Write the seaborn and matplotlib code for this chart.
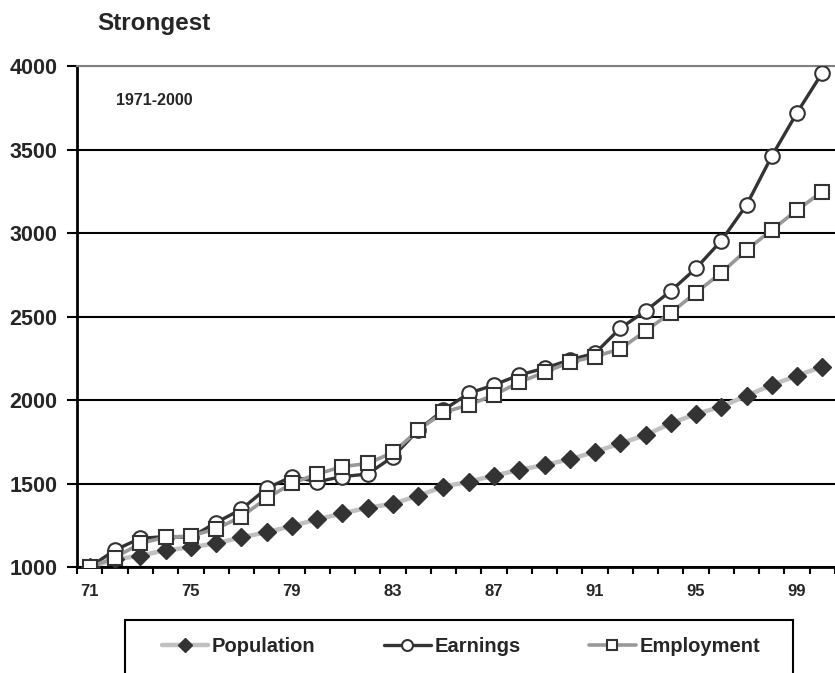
import matplotlib
matplotlib.use("Agg")
import matplotlib.pyplot as plt
from matplotlib.patches import Rectangle
import seaborn as sns
import pandas as pd

# Index values, 1971 = 1000
years = ["71", "72", "73", "74", "75", "76", "77", "78", "79", "80",
         "81", "82", "83", "84", "85", "86", "87", "88", "89", "90",
         "91", "92", "93", "94", "95", "96", "97", "98", "99", "00"]
population = [1000, 1045, 1068, 1100, 1118, 1142, 1178, 1208, 1245, 1285,
              1321, 1355, 1379, 1427, 1481, 1511, 1547, 1581, 1611, 1645,
              1690, 1740, 1790, 1860, 1916, 1960, 2026, 2090, 2146, 2200]
earnings = [1000, 1102, 1172, 1182, 1178, 1266, 1346, 1471, 1541, 1511,
            1541, 1557, 1660, 1820, 1940, 2040, 2090, 2150, 2190, 2240,
            2280, 2430, 2533, 2653, 2789, 2954, 3168, 3461, 3721, 3960]
employment = [1000, 1056, 1142, 1178, 1186, 1228, 1302, 1411, 1501, 1557,
              1601, 1620, 1686, 1820, 1926, 1970, 2030, 2106, 2166, 2226,
              2260, 2306, 2413, 2523, 2643, 2762, 2898, 3018, 3138, 3248]
y_ticks = [1000, 1500, 2000, 2500, 3000, 3500, 4000]
title = "Strongest"
period = "1971-2000"

sns.set_style("white")
plt.rcParams["font.family"] = ["Liberation Sans", "DejaVu Sans"]
plt.rcParams["font.weight"] = "bold"

df = pd.DataFrame({"pos": range(len(years)), "year": years,
                   "Population": population, "Earnings": earnings,
                   "Employment": employment})

fig = plt.figure(figsize=(8.35, 6.73), dpi=100)
ax = fig.add_axes([77 / 835, 106 / 673, 758 / 835, 501 / 673])

sns.lineplot(data=df, x="pos", y="Population", ax=ax, color="#c0c0c0",
             lw=3.2, marker="D", markersize=9.5, markerfacecolor="#333333",
             markeredgecolor="#333333", markeredgewidth=1.0,
             label="Population", zorder=3)
sns.lineplot(data=df, x="pos", y="Earnings", ax=ax, color="#333333",
             lw=2.4, marker="o", markersize=10.5, markerfacecolor="white",
             markeredgecolor="#333333", markeredgewidth=1.5,
             label="Earnings", zorder=4)
sns.lineplot(data=df, x="pos", y="Employment", ax=ax, color="#999999",
             lw=2.6, marker="s", markersize=10, markerfacecolor="white",
             markeredgecolor="#333333", markeredgewidth=1.5,
             label="Employment", zorder=5)

handles, labels = ax.get_legend_handles_labels()
ax.get_legend().remove()

ax.set_xlim(-0.508, 29.17)
ax.set_ylim(1000, 4000)
ax.set_xlabel("")
ax.set_ylabel("")

# category axis: labels every 4 years, tick marks between categories
label_pos = list(range(0, len(years), 4))
ax.set_xticks(label_pos)
ax.set_xticklabels([years[i] for i in label_pos])
ax.set_xticks([i - 0.5 for i in range(len(years) + 1)], minor=True)
ax.tick_params(axis="x", which="major", length=0, pad=12, labelsize=12)
ax.tick_params(axis="x", which="minor", direction="out", length=5,
               width=1.5, color="black", bottom=True)

ax.set_yticks(y_ticks)
ax.set_yticklabels([str(v) for v in y_ticks])
ax.tick_params(axis="y", which="major", direction="out", length=7,
               width=1.5, color="black", pad=7, labelsize=15.5, left=True)
for lab in ax.get_xticklabels() + ax.get_yticklabels():
    lab.set_fontweight("bold")

ax.grid(axis="y", color="black", lw=1.5)
ax.grid(axis="x", visible=False)
ax.get_ygridlines()[-1].set_color("#808080")
ax.set_axisbelow(True)

for side in ["left", "bottom"]:
    ax.spines[side].set_color("black")
    ax.spines[side].set_linewidth(2)
ax.spines["right"].set_visible(False)
ax.spines["top"].set_color("#808080")
ax.spines["top"].set_linewidth(1.5)

ax.text(0.051, 0.932, period, transform=ax.transAxes, ha="left",
        va="center", fontsize=11.5, fontweight="bold")
fig.text(97 / 835, 1 - 30 / 673, title, ha="left", va="baseline",
         fontsize=17.5, fontweight="bold")

fig.legend(handles, labels, loc="center", bbox_to_anchor=(461 / 835, 26 / 673),
           ncol=3, frameon=False, handlelength=2.3, handletextpad=0.2,
           columnspacing=3.4, numpoints=1, markerscale=0.75,
           prop={"weight": "bold", "size": 14.5})
fig.patches.append(Rectangle((125 / 835, -0.05), 668 / 835, 0.05 + 53 / 673,
                             transform=fig.transFigure, fill=False,
                             edgecolor="black", lw=1.5, figure=fig))

fig.savefig("out.png", dpi=100)
